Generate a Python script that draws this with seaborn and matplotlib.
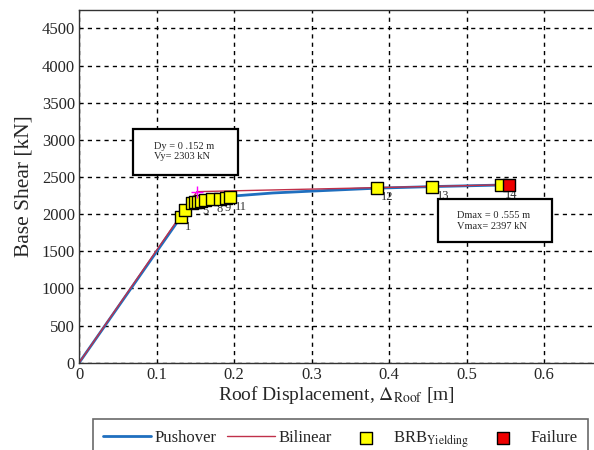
import numpy as np
import pandas as pd
import matplotlib
matplotlib.use("Agg")
import matplotlib.pyplot as plt
import matplotlib.patches as mpatches
import seaborn as sns

# Pushover curve
push_disp = [0.0, 0.130, 0.138, 0.148, 0.160, 0.180, 0.200, 0.250, 0.300, 0.385, 0.460, 0.545, 0.555]
push_shear = [0, 1945, 2060, 2150, 2190, 2220, 2245, 2285, 2310, 2350, 2372, 2392, 2397]

# Bilinear idealisation
bil_disp = [0.0, 0.152, 0.555]
bil_shear = [0, 2303, 2397]

# BRB yielding steps 1..14
brb_disp = [0.131, 0.136, 0.146, 0.150, 0.153, 0.157, 0.162, 0.172, 0.182, 0.190, 0.195, 0.384, 0.456, 0.544]
brb_shear = [1960, 2060, 2150, 2160, 2170, 2180, 2190, 2200, 2210, 2220, 2230, 2355, 2372, 2390]
brb_labels = ["1", "", "", "", "5", "", "", "8", "9", "", "11", "12", "13", "14"]

fail_disp = [0.555]
fail_shear = [2397]

yield_pt = (0.152, 2303)
max_pt = (0.555, 2397)

sns.set_style("white")
plt.rcParams["font.family"] = ["Liberation Serif", "DejaVu Serif"]
plt.rcParams["mathtext.fontset"] = "stix"

fig = plt.figure(figsize=(5.94, 4.5), dpi=100)
# axes run past the right edge of the figure, as in the cropped original
ax = fig.add_axes([0.1333, 0.194, 0.913, 0.784])

push = pd.DataFrame({"d": push_disp, "v": push_shear})
bil = pd.DataFrame({"d": bil_disp, "v": bil_shear})
brb = pd.DataFrame({"d": brb_disp, "v": brb_shear})
fail = pd.DataFrame({"d": fail_disp, "v": fail_shear})

sns.lineplot(data=push, x="d", y="v", color="#1f6fbf", lw=2, sort=False, ax=ax, label="Pushover")
sns.lineplot(data=bil, x="d", y="v", color="#c0304a", lw=1, sort=False, ax=ax, label="Bilinear")
sns.scatterplot(data=brb, x="d", y="v", marker="s", s=80, color="#ffff00", edgecolor="black",
                linewidth=1, ax=ax, zorder=4, label=r"BRB$_{\mathrm{Yielding}}$")
sns.scatterplot(data=fail, x="d", y="v", marker="s", s=80, color="#ee0000", edgecolor="black",
                linewidth=1, ax=ax, zorder=5, label="Failure")
ax.plot(*yield_pt, marker="+", color="magenta", ms=9, mew=1, zorder=6)

for d, v, t in zip(brb_disp, brb_shear, brb_labels):
    if t:
        ax.annotate(t, (d, v), xytext=(3, -9), textcoords="offset points", fontsize=9, color="#333333")

ax.set_xlim(0, 0.7)
ax.set_ylim(0, 4750)
ax.set_xticks(np.arange(0, 0.61, 0.1))
ax.set_xticklabels(["0", "0.1", "0.2", "0.3", "0.4", "0.5", "0.6"])
ax.set_yticks(np.arange(0, 4501, 500))
ax.tick_params(direction="in", labelsize=12, length=4, color="black", pad=3)
ax.grid(True, color="black", linestyle=(0, (3, 3)), linewidth=1)
for s in ax.spines.values():
    s.set_color("#333333")
    s.set_linewidth(1)

ax.set_xlabel(r"Roof Displacement, $\Delta_{\mathrm{Roof}}$ [m]", fontsize=14, labelpad=2)
ax.xaxis.set_label_coords(0.5 * (594 - 79) / (0.913 * 594) + 0.0, -0.06)
ax.set_ylabel("Base Shear [kN]", fontsize=15.5, labelpad=6)

# annotation boxes
ax.add_patch(mpatches.Rectangle((0.070, 2530), 0.135, 614, transform=ax.transData, facecolor="white",
                                edgecolor="black", linewidth=1.6, zorder=7))
ax.text(0.097, 2846, f"Dy = 0 .{int(yield_pt[0]*1000)} m\nVy= {yield_pt[1]} kN",
        ha="left", va="center", fontsize=7.5, zorder=8)
ax.add_patch(mpatches.Rectangle((0.463, 1620), 0.147, 580, transform=ax.transData, facecolor="white",
                                edgecolor="black", linewidth=1.6, zorder=7))
ax.text(0.488, 1910, f"Dmax = 0 .{int(max_pt[0]*1000)} m\nVmax= {max_pt[1]} kN",
        ha="left", va="center", fontsize=7.5, zorder=8)

ax.get_legend().remove()
handles, labels = ax.get_legend_handles_labels()
leg = fig.legend(handles, labels, loc="upper left", bbox_to_anchor=(93 / 594, 1 - 419 / 450), ncol=4,
                 fontsize=12, frameon=True, fancybox=False, edgecolor="#444444",
                 handlelength=2.9, handletextpad=0.2, columnspacing=0.6, borderpad=0.6,
                 borderaxespad=0)
leg.get_frame().set_linewidth(1.2)

fig.savefig("out.png", dpi=100, facecolor="white")
